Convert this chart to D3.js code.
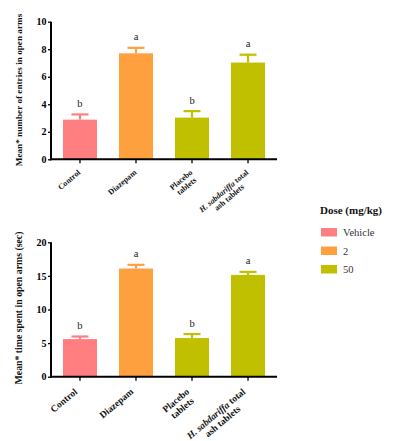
<!DOCTYPE html>
<html><head><meta charset="utf-8">
<script src="https://cdn.jsdelivr.net/npm/d3@7"></script>
<style>
body{margin:0;background:#fff;}
svg text{font-family:"Liberation Serif","Times New Roman",serif !important;}
</style></head>
<body>
<svg id="chart" width="398" height="441"></svg>
<script>
const categories = ["Control","Diazepam","Placebo tablets","H. sabdariffa total ash tablets"];
const groups = ["Vehicle","2","50","50"];
const entriesMean = [2.88, 7.7, 3.03, 7.03];
const entriesErr = [0.38, 0.4, 0.47, 0.57];
const timeMean = [5.6, 16.1, 5.75, 15.15];
const timeErr = [0.38, 0.55, 0.6, 0.45];
const letters = ["b","a","b","a"];
const entriesTicks = [0,2,4,6,8,10];
const timeTicks = [0,5,10,15,20];
const legendLabels = ["Vehicle","2","50"];
const legendColors = ["#FF7F80","#FFA03F","#C0C000"];

const FONT = '"Liberation Serif", "Times New Roman", serif';
const svg = d3.select("#chart");
const color = d3.scaleOrdinal().domain(legendLabels).range(legendColors);

const x = d3.scaleBand().domain(categories).range([51, 277]).paddingInner(0.393).paddingOuter(0.214);

function panel(cfg){
  const y = d3.scaleLinear().domain([0, cfg.max]).range([cfg.y0, cfg.y1]);
  const g = svg.append("g");
  g.selectAll("rect.bar").data(categories).join("rect")
    .attr("x", d => x(d)).attr("width", x.bandwidth())
    .attr("y", (d,i) => y(cfg.mean[i])).attr("height", (d,i) => y(0) - y(cfg.mean[i]))
    .attr("fill", (d,i) => color(groups[i]));
  categories.forEach((c,i) => {
    const cx = x(c) + x.bandwidth()/2;
    const top = y(cfg.mean[i] + cfg.err[i]);
    g.append("line").attr("x1", cx).attr("x2", cx).attr("y1", y(cfg.mean[i])).attr("y2", top)
      .attr("stroke", color(groups[i])).attr("stroke-width", 2.2);
    g.append("line").attr("x1", cx - 8.5).attr("x2", cx + 8.5).attr("y1", top).attr("y2", top)
      .attr("stroke", color(groups[i])).attr("stroke-width", 2.2);
    g.append("text").attr("x", cx).attr("y", top - 7.5).attr("text-anchor","middle")
      .style("font-family", FONT).attr("font-size", 10.5).attr("fill","#222").text(letters[i]);
  });
  const ya = g.append("g").attr("transform", `translate(51,0)`)
    .call(d3.axisLeft(y).tickValues(cfg.ticks).tickSize(3).tickPadding(1.5).tickSizeOuter(0));
  ya.attr("font-family", null);
  ya.select(".domain").attr("stroke","#000").attr("stroke-width",2).attr("d", `M0,${y(0)+1}V${y(cfg.max)}`);
  ya.selectAll(".tick line").attr("stroke","#000").attr("stroke-width",1.3);
  ya.selectAll(".tick text").style("font-family", FONT).attr("font-weight","bold")
    .attr("font-size", 10).attr("fill","#000");
  const xa = g.append("g").attr("transform", `translate(0,${y(0)})`)
    .call(d3.axisBottom(x).tickSize(4).tickSizeOuter(0).tickFormat(""));
  xa.select(".domain").attr("stroke","#000").attr("stroke-width",2).attr("d","M50,0H277");
  xa.selectAll(".tick line").attr("stroke","#000").attr("stroke-width",1.3);
  const lines = [["Control"],["Diazepam"],["Placebo","tablets"],[["H. sabdariffa"," total"],"ash tablets"]];
  categories.forEach((c,i) => {
    const cx = x(c) + x.bandwidth()/2;
    const lg = g.append("g").attr("transform", `translate(${cx + cfg.lx},${y(0) + cfg.ly}) rotate(-40)`);
    const fs = cfg.lfs;
    const texts = [];
    lines[i].forEach((ln, j) => {
      const t = lg.append("text").style("font-family", FONT).attr("font-weight","bold").attr("font-size", fs).attr("fill","#111")
        .attr("y", j * fs * 1.05);
      if (Array.isArray(ln)) {
        t.append("tspan").attr("font-style","italic").text(ln[0]);
        t.append("tspan").text(ln[1]);
      } else t.text(ln);
      texts.push(t);
    });
    const widths = texts.map(t => t.node().getComputedTextLength());
    const W = Math.max(...widths);
    texts.forEach((t,j) => t.attr("text-anchor","middle").attr("x", -W/2));
  });
  svg.append("text").attr("transform", `translate(${cfg.tx},${cfg.ty}) rotate(-90)`)
    .attr("text-anchor","middle").style("font-family", FONT).attr("font-weight","bold").attr("font-size", cfg.tfs).attr("fill","#111")
    .text(cfg.title);
}

panel({max:10, y0:159.3, y1:21.7, mean:entriesMean, err:entriesErr, ticks:entriesTicks,
  title:"Mean* number of entries in open arms", tx:22, ty:90, tfs:9.2, lfs:8, lx:1, ly:14});
panel({max:20, y0:376.7, y1:242.3, mean:timeMean, err:timeErr, ticks:timeTicks,
  title:"Mean* time spent in open arms (sec)", tx:22, ty:308, tfs:9.8, lfs:9.5, lx:-2, ly:16});

const leg = svg.append("g");
leg.append("text").attr("x", 320).attr("y", 213.5).style("font-family", FONT).attr("font-weight","bold").attr("font-size", 11)
  .attr("fill","#111").text("Dose (mg/kg)");
legendLabels.forEach((l,i) => {
  leg.append("rect").attr("x", 321).attr("y", 228 + i*18.5).attr("width", 16).attr("height", 8.5).attr("fill", color(l));
  leg.append("text").attr("x", 343).attr("y", 236 + i*18.5).style("font-family", FONT).attr("font-size", 10.5).attr("fill","#333").text(l);
});
</script>
</body></html>
